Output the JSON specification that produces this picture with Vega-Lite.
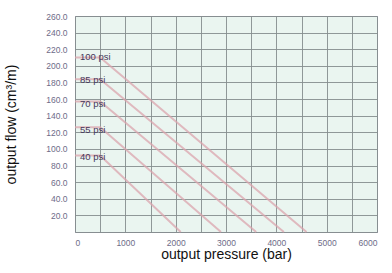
{
  "$schema": "https://vega.github.io/schema/vega-lite/v6.json",
  "autosize": "none",
  "width": 302,
  "height": 216,
  "padding": {"left": 75, "top": 16, "right": 15, "bottom": 41},
  "background": "white",
  "config": {
    "view": {"fill": "#eaf5f0", "stroke": "#9a90b0", "strokeWidth": 1},
    "font": "Liberation Sans"
  },
  "datasets": {
    "curves": [
      {"psi": "100 psi", "pressure": 0, "flow": 210},
      {"psi": "100 psi", "pressure": 500, "flow": 210},
      {"psi": "100 psi", "pressure": 4600, "flow": 0},
      {"psi": "85 psi", "pressure": 0, "flow": 184},
      {"psi": "85 psi", "pressure": 500, "flow": 184},
      {"psi": "85 psi", "pressure": 4150, "flow": 0},
      {"psi": "70 psi", "pressure": 0, "flow": 157},
      {"psi": "70 psi", "pressure": 500, "flow": 157},
      {"psi": "70 psi", "pressure": 3600, "flow": 0},
      {"psi": "55 psi", "pressure": 0, "flow": 126},
      {"psi": "55 psi", "pressure": 500, "flow": 126},
      {"psi": "55 psi", "pressure": 2900, "flow": 0},
      {"psi": "40 psi", "pressure": 0, "flow": 92},
      {"psi": "40 psi", "pressure": 500, "flow": 92},
      {"psi": "40 psi", "pressure": 2100, "flow": 0}
    ],
    "labels": [
      {"psi": "100 psi", "pressure": 100, "flow": 211},
      {"psi": "85 psi", "pressure": 100, "flow": 183},
      {"psi": "70 psi", "pressure": 100, "flow": 154},
      {"psi": "55 psi", "pressure": 100, "flow": 123},
      {"psi": "40 psi", "pressure": 100, "flow": 90}
    ]
  },
  "encoding": {
    "x": {
      "field": "pressure", "type": "quantitative",
      "scale": {"domain": [0, 6000], "nice": false},
      "axis": {
        "title": "output pressure (bar)",
        "values": [0, 500, 1000, 1500, 2000, 2500, 3000, 3500, 4000, 4500, 5000, 5500, 6000],
        "labelExpr": "datum.value % 1000 == 0 ? format(datum.value, 'd') : ''",
        "grid": true, "gridColor": "#858e8e", "gridWidth": 1, "gridOpacity": 0.9,
        "domain": false, "ticks": false,
        "labelFontSize": 8.5, "labelColor": "#6e6c88", "labelPadding": 6,
        "titleFontSize": 14, "titleColor": "#111", "titleFontWeight": "normal", "titlePadding": 1
      }
    },
    "y": {
      "field": "flow", "type": "quantitative",
      "scale": {"domain": [0, 260], "nice": false},
      "axis": {
        "title": "output flow (cm³/m)",
        "values": [0, 20, 40, 60, 80, 100, 120, 140, 160, 180, 200, 220, 240, 260],
        "labelExpr": "datum.value == 0 ? '' : format(datum.value, '.1f')",
        "grid": true, "gridColor": "#858e8e", "gridWidth": 1, "gridOpacity": 0.9,
        "domain": false, "ticks": false,
        "labelFontSize": 8.5, "labelColor": "#6e6c88", "labelPadding": 8,
        "titleFontSize": 14, "titleColor": "#111", "titleFontWeight": "normal", "titleX": -57
      }
    }
  },
  "layer": [
    {
      "data": {"name": "curves"},
      "mark": {"type": "line", "color": "#dba4ae", "strokeWidth": 2, "opacity": 0.75},
      "encoding": {"detail": {"field": "psi"}}
    },
    {
      "data": {"name": "labels"},
      "mark": {"type": "text", "align": "left", "baseline": "middle", "fontSize": 9.5, "color": "#45385a"},
      "encoding": {"text": {"field": "psi"}}
    }
  ]
}
